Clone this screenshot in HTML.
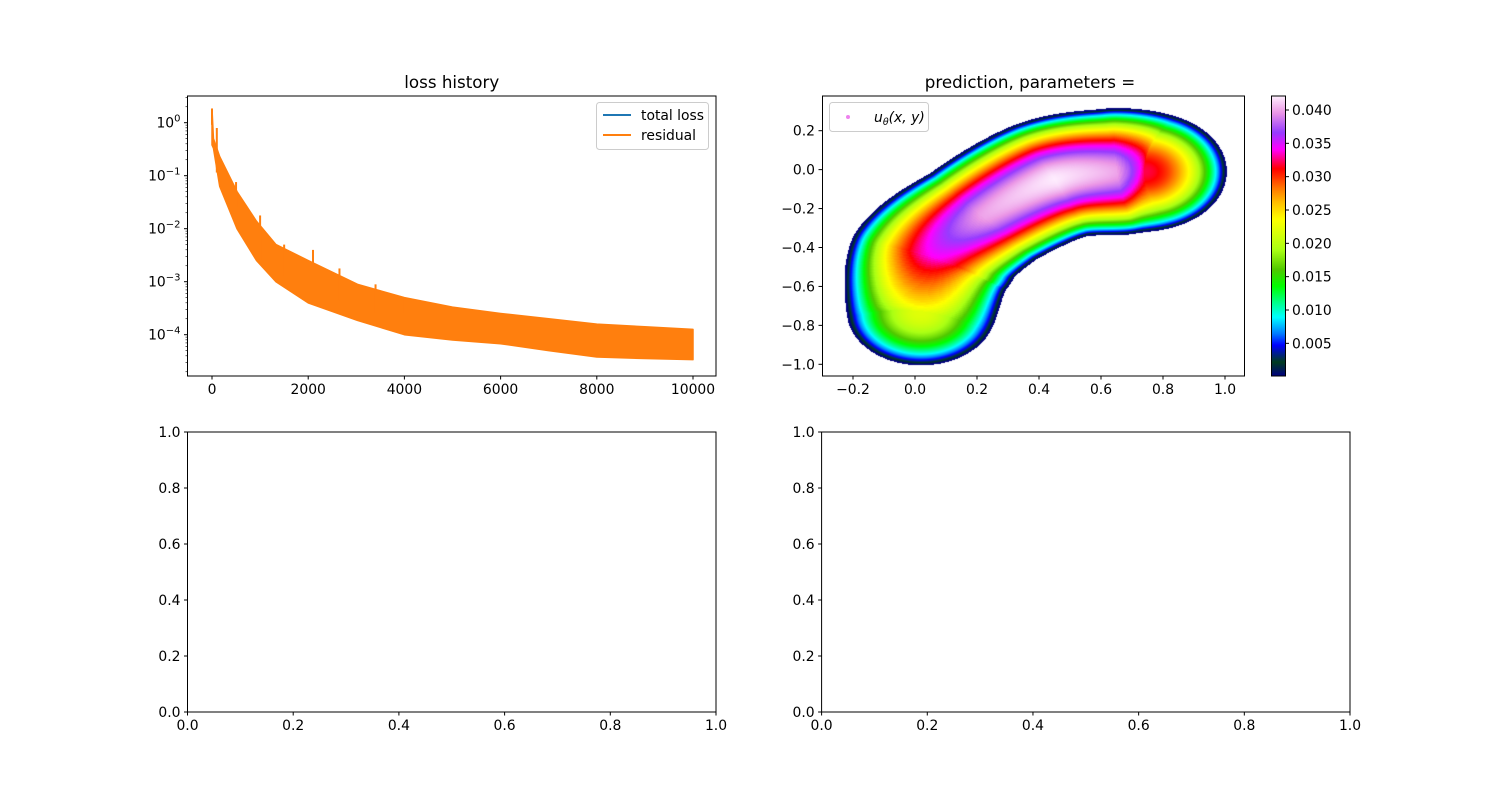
<!DOCTYPE html>
<html><head><meta charset="utf-8">
<style>
html,body{margin:0;padding:0;background:#fff;}
#fig{position:relative;width:1500px;height:800px;font-family:"DejaVu Sans","Liberation Sans",sans-serif;}
svg{position:absolute;left:0;top:0;}
canvas{position:absolute;}
</style></head>
<body>
<div id="fig">
<canvas id="heat" width="422" height="280" style="left:822px;top:96px"></canvas>
<canvas id="cbar" width="14" height="280" style="left:1271px;top:96px"></canvas>
<svg id="svg" width="1500" height="800" xmlns="http://www.w3.org/2000/svg"></svg>
</div>
<script>
// ---- loss history data (log10 envelope) ----
const lossSteps = [0, 30, 160, 520, 925, 1330, 2000, 3025, 4000, 5000, 6000, 7000, 8000, 9000, 10000];
const lossUpperLog = [0.26, -0.3, -0.64, -1.3, -1.86, -2.3, -2.6, -3.05, -3.3, -3.48, -3.6, -3.7, -3.8, -3.85, -3.9];
const lossLowerLog = [-0.42, -0.48, -1.2, -2.0, -2.6, -3.0, -3.4, -3.73, -4.0, -4.1, -4.17, -4.3, -4.42, -4.45, -4.47];
const spikeSteps = [0, 100, 500, 1000, 1500, 2100, 2650, 3400, 4000];
const spikeLog = [0.26, -0.1, -1.12, -1.75, -2.3, -2.4, -2.75, -3.05, -3.3];
const lossYTicks = [0, -1, -2, -3, -4];
const lossXTicks = [0, 2000, 4000, 6000, 8000, 10000];
// ---- prediction field (centerline of kidney domain) ----
const centerX = [0.02, 0.06, 0.22, 0.45, 0.65, 0.74];
const centerY = [-0.73, -0.45, -0.24, -0.05, -0.01, -0.01];
const centerR = [0.27, 0.31, 0.29, 0.31, 0.32, 0.30];
const centerPeak = [0.022, 0.034, 0.040, 0.042, 0.040, 0.032];
const predXTicks = [-0.2, 0.0, 0.2, 0.4, 0.6, 0.8, 1.0];
const predYTicks = [0.2, 0.0, -0.2, -0.4, -0.6, -0.8, -1.0];
const cbarTicks = [0.005, 0.010, 0.015, 0.020, 0.025, 0.030, 0.035, 0.040];
const emptyTicks = [0.0, 0.2, 0.4, 0.6, 0.8, 1.0];

const NS = "http://www.w3.org/2000/svg";
const svg = document.getElementById('svg');
function el(tag, attrs, parent) {
  const e = document.createElementNS(NS, tag);
  for (const k in attrs) e.setAttribute(k, attrs[k]);
  (parent || svg).appendChild(e);
  return e;
}
function txt(x, y, s, anchor, size, name) {
  const t = el('text', {x: x, y: y, 'text-anchor': anchor || 'middle', 'font-size': size || 13.9, fill: '#000'});
  t.textContent = s;
  
  
  return t;
}

// ---------- Axes 1: loss history ----------
const A1 = {l: 187.5, r: 716, t: 96, b: 376};
const lx = v => 212 + (v - 0) * (693 - 212) / 10000;
const ly = lg => 122.7 - lg * 53;
let pts = [];
for (let i = 0; i < lossSteps.length; i++) pts.push(lx(lossSteps[i]) + ',' + ly(lossUpperLog[i]));
for (let i = lossSteps.length - 1; i >= 0; i--) pts.push(lx(lossSteps[i]) + ',' + ly(lossLowerLog[i]));
const band = el('polygon', {points: pts.join(' '), fill: '#ff7f0e', stroke: '#ff7f0e', 'stroke-width': 1.5, 'stroke-linejoin': 'round'});


for (let i = 0; i < spikeSteps.length; i++) {
  let j = lossSteps.findIndex(s => s >= spikeSteps[i]);
  if (j < 0) j = lossSteps.length - 1;
  const base = lossUpperLog[j];
  const sp = el('line', {x1: lx(spikeSteps[i]), x2: lx(spikeSteps[i]), y1: ly(spikeLog[i]), y2: ly(base - 0.3), stroke: '#ff7f0e', 'stroke-width': 2});
  
  
}
let f = el('rect', {x: A1.l, y: A1.t, width: A1.r - A1.l, height: A1.b - A1.t, fill: 'none', stroke: '#000', 'stroke-width': 1});
 
lossXTicks.forEach(v => {
  el('line', {x1: lx(v), x2: lx(v), y1: A1.b, y2: A1.b + 3.5, stroke: '#000'});
  txt(lx(v), A1.b + 18, String(v), 'middle', 13.9, 'x-tick-label');
});
lossYTicks.forEach(v => {
  el('line', {x1: A1.l - 3.5, x2: A1.l, y1: ly(v), y2: ly(v), stroke: '#000'});
  const t = txt(A1.l - 7, ly(v) + 5, '10', 'end', 13.9, 'y-tick-label');
  const s = el('tspan', {dy: -6, 'font-size': 10}, t); s.textContent = v === 0 ? '0' : '\u2212' + (-v);
  for (let m = 2; m < 10; m++) {
    const yy = ly(v - 1 + Math.log10(m));
    if (yy > A1.t && yy < A1.b) el('line', {x1: A1.l - 2, x2: A1.l, y1: yy, y2: yy, stroke: '#000', 'stroke-width': 0.6});
  }
});
for (let m = 2; m < 10; m++) { const yy = ly(Math.log10(m)); if (yy > A1.t) el('line', {x1: A1.l - 2, x2: A1.l, y1: yy, y2: yy, stroke: '#000', 'stroke-width': 0.6}); }
txt((A1.l + A1.r) / 2, 88, 'loss history', 'middle', 16.7, 'loss-title');
let lg = el('rect', {x: 596.5, y: 102.5, width: 112, height: 47, rx: 3, fill: '#fff', stroke: '#ccc'});
 
el('line', {x1: 603, x2: 631, y1: 115, y2: 115, stroke: '#1f77b4', 'stroke-width': 2});
txt(641, 120, 'total loss', 'start', 13.9, 'legend-total-loss');
el('line', {x1: 603, x2: 631, y1: 135, y2: 135, stroke: '#ff7f0e', 'stroke-width': 2});
txt(641, 140, 'residual', 'start', 13.9, 'legend-residual');

// ---------- Axes 2: prediction ----------
const A2 = {l: 822, r: 1244, t: 96, b: 376};
const px = v => 853 + (v + 0.2) * (1225 - 853) / 1.2;
const py = v => 130.7 + (0.2 - v) * (364.3 - 130.7) / 1.2;
const ipx = X => -0.2 + (X - 853) * 1.2 / (1225 - 853);
const ipy = Y => 0.2 - (Y - 130.7) * 1.2 / (364.3 - 130.7);
const cStops = [[0,[0,0,128]],[0.05,[0,60,30]],[0.11,[0,0,255]],[0.15,[0,120,255]],[0.21,[0,255,255]],[0.27,[0,255,120]],[0.32,[0,255,0]],[0.38,[80,200,0]],[0.45,[170,255,20]],[0.56,[255,255,0]],[0.62,[255,190,0]],[0.67,[255,120,0]],[0.74,[255,0,0]],[0.81,[255,0,255]],[0.87,[150,60,255]],[0.94,[235,150,230]],[1,[255,240,255]]];
function cmap(t) {
  t = Math.max(0, Math.min(1, t));
  for (let i = 1; i < cStops.length; i++) {
    if (t <= cStops[i][0]) {
      const a = cStops[i-1], b = cStops[i], u = (t - a[0]) / (b[0] - a[0]);
      return a[1].map((c, k) => Math.round(c + (b[1][k] - c) * u));
    }
  }
  return cStops[cStops.length-1][1];
}
// smooth centerline samples (Catmull-Rom)
const samp = [];
const n = centerX.length;
for (let s = 0; s < n - 1; s++) {
  const i0 = Math.max(0, s - 1), i1 = s, i2 = s + 1, i3 = Math.min(n - 1, s + 2);
  for (let k = 0; k < 30; k++) {
    const u = k / 30, u2 = u * u, u3 = u2 * u;
    const cr = (a, b, c, d) => 0.5 * (2 * b + (-a + c) * u + (2 * a - 5 * b + 4 * c - d) * u2 + (-a + 3 * b - 3 * c + d) * u3);
    samp.push([cr(centerX[i0], centerX[i1], centerX[i2], centerX[i3]), cr(centerY[i0], centerY[i1], centerY[i2], centerY[i3]),
      centerR[i1] + (centerR[i2] - centerR[i1]) * u, centerPeak[i1] + (centerPeak[i2] - centerPeak[i1]) * u]);
  }
}
samp.push([centerX[n-1], centerY[n-1], centerR[n-1], centerPeak[n-1]]);
const vmin = 0.0001, vmax = 0.0421;
const hc = document.getElementById('heat').getContext('2d');
const img = hc.createImageData(422, 280);
for (let j = 0; j < 280; j++) for (let i = 0; i < 422; i++) {
  const x = ipx(A2.l + i + 0.5), y = ipy(A2.t + j + 0.5);
  let best = 1e9, pk = 0;
  for (let s = 0; s < samp.length; s++) {
    const p = samp[s];
    const dx = (x - p[0]) * 1.15, dy = y - p[1];
    const q = Math.sqrt(dx * dx + dy * dy) / p[2];
    if (q < best) { best = q; pk = p[3]; }
  }
  const o = (j * 422 + i) * 4;
  if (best < 1.02) {
    const val = best < 1 ? pk * Math.pow(1 - best * best, 0.85) : 0;
    const c = cmap((val - vmin) / (vmax - vmin));
    img.data[o] = c[0]; img.data[o+1] = c[1]; img.data[o+2] = c[2]; img.data[o+3] = 255;
  } else { img.data[o] = img.data[o+1] = img.data[o+2] = 255; img.data[o+3] = 255; }
}
hc.putImageData(img, 0, 0);
f = el('rect', {x: A2.l + 0.5, y: A2.t, width: A2.r - A2.l, height: A2.b - A2.t, fill: 'none', stroke: '#000'});
 
predXTicks.forEach(v => {
  el('line', {x1: px(v), x2: px(v), y1: A2.b, y2: A2.b + 3.5, stroke: '#000'});
  txt(px(v), A2.b + 18, (v < 0 ? '\u2212' : '') + Math.abs(v).toFixed(1), 'middle', 13.9, 'x-tick-label');
});
predYTicks.forEach(v => {
  el('line', {x1: A2.l - 3.5, x2: A2.l, y1: py(v), y2: py(v), stroke: '#000'});
  txt(A2.l - 7, py(v) + 5, (v < 0 ? '\u2212' : '') + Math.abs(v).toFixed(1), 'end', 13.9, 'y-tick-label');
});
txt(1030, 88, 'prediction, parameters =', 'middle', 16.7, 'prediction-title');
lg = el('rect', {x: 829.5, y: 102.5, width: 99, height: 29, rx: 3, fill: '#fff', 'fill-opacity': 0.8, stroke: '#ccc'});
 
el('circle', {cx: 848, cy: 117, r: 2, fill: '#ee82ee'});
const ut = txt(874, 122, 'u', 'start', 13.9, 'legend-u-theta');
ut.setAttribute('font-style', 'italic');
let ts = el('tspan', {dy: 3, 'font-size': 9.5}, ut); ts.textContent = 'θ';
ts = el('tspan', {dy: -3}, ut); ts.textContent = '(x, y)';

// colorbar
const cb = document.getElementById('cbar').getContext('2d');
for (let j = 0; j < 280; j++) {
  const c = cmap(1 - (j + 0.5) / 280);
  cb.fillStyle = 'rgb(' + c.join(',') + ')';
  cb.fillRect(0, j, 14, 1);
}
const cy = v => 376 - (v - vmin) * 280 / (vmax - vmin);
f = el('rect', {x: 1271.5, y: 96, width: 14, height: 280, fill: 'none', stroke: '#000'});
 
cbarTicks.forEach(v => {
  el('line', {x1: 1285.5, x2: 1289, y1: cy(v), y2: cy(v), stroke: '#000'});
  txt(1292, cy(v) + 5, v.toFixed(3), 'start', 13.9, 'colorbar-tick-label');
});

// ---------- empty axes ----------
[[187.5, 716], [821.6, 1350]].forEach((xr, k) => {
  const l = xr[0], r = xr[1], t = 432, b = 712;
  const fr = el('rect', {x: l, y: t, width: r - l, height: b - t, fill: 'none', stroke: '#000'});
  
  
  emptyTicks.forEach(v => {
    const X = l + v * (r - l), Y = b - v * (b - t);
    el('line', {x1: X, x2: X, y1: b, y2: b + 3.5, stroke: '#000'});
    txt(X, b + 18, v.toFixed(1), 'middle', 13.9, 'x-tick-label');
    el('line', {x1: l - 3.5, x2: l, y1: Y, y2: Y, stroke: '#000'});
    txt(l - 7, Y + 5, v.toFixed(1), 'end', 13.9, 'y-tick-label');
  });
});
</script>
</body></html>
